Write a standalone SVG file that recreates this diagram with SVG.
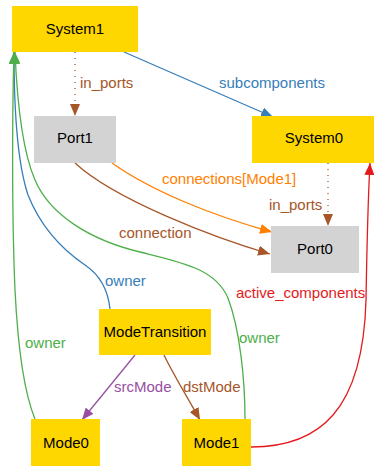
<svg xmlns="http://www.w3.org/2000/svg" width="374" height="466" viewBox="0 0 374 466">
<style>
.node text{font-family:"Liberation Sans",Arial,sans-serif;font-size:15px;fill:#000;text-anchor:middle}
.y{fill:#FFD700}
.g{fill:#D3D3D3}
.e{fill:none;stroke-width:1.3}
.lbl{font-family:"Liberation Sans",Arial,sans-serif;font-size:15px}
</style>
<defs>
<marker id="aBrown" markerUnits="userSpaceOnUse" markerWidth="12" markerHeight="10" refX="12" refY="5" orient="auto"><path d="M0,0 L12,5 L0,10 z" fill="#A65628"/></marker>
<marker id="aBlue" markerUnits="userSpaceOnUse" markerWidth="12" markerHeight="10" refX="12" refY="5" orient="auto"><path d="M0,0 L12,5 L0,10 z" fill="#377EB8"/></marker>
<marker id="aOrange" markerUnits="userSpaceOnUse" markerWidth="12" markerHeight="10" refX="12" refY="5" orient="auto"><path d="M0,0 L12,5 L0,10 z" fill="#FF7F00"/></marker>
<marker id="aRed" markerUnits="userSpaceOnUse" markerWidth="12" markerHeight="10" refX="12" refY="5" orient="auto"><path d="M0,0 L12,5 L0,10 z" fill="#E41A1C"/></marker>
<marker id="aGreen" markerUnits="userSpaceOnUse" markerWidth="12" markerHeight="10" refX="12" refY="5" orient="auto"><path d="M0,0 L12,5 L0,10 z" fill="#4DAF4A"/></marker>
<marker id="aPurple" markerUnits="userSpaceOnUse" markerWidth="12" markerHeight="10" refX="12" refY="5" orient="auto"><path d="M0,0 L12,5 L0,10 z" fill="#984EA3"/></marker>
</defs>
<rect width="374" height="466" fill="#fff"/>

<g id="edges">
  <path class="e" d="M75,52 L75,116" stroke="#A65628" stroke-dasharray="1,5" marker-end="url(#aBrown)"/>
  <text class="lbl" x="80" y="88" fill="#A65628">in_ports</text>

  <path class="e" d="M124,52 L273,117" stroke="#377EB8" marker-end="url(#aBlue)"/>
  <text class="lbl" x="219" y="88" fill="#377EB8">subcomponents</text>

  <path class="e" d="M112,163 C150,190 210,215 272,232" stroke="#FF7F00" marker-end="url(#aOrange)"/>
  <text class="lbl" x="162" y="184" fill="#FF7F00">connections[Mode1]</text>

  <path class="e" d="M75,163 C115,200 215,238 270,254" stroke="#A65628" marker-end="url(#aBrown)"/>
  <text class="lbl" x="119" y="238" fill="#A65628">connection</text>

  <path class="e" d="M328,163 L328,226" stroke="#A65628" stroke-dasharray="1,5" marker-end="url(#aBrown)"/>
  <text class="lbl" x="269" y="210" fill="#A65628">in_ports</text>

  <path class="e" d="M251,447 C320,447 363,410 366,300 C367,240 368,200 370,163" stroke="#E41A1C" marker-end="url(#aRed)"/>
  <text class="lbl" x="236" y="298" fill="#E41A1C">active_components</text>

  <path class="e" d="M110,309 C108,290 100,275 85,265 C60,248 40,225 28,195 C18,165 14,110 14,52" stroke="#377EB8" marker-end="url(#aBlue)"/>
  <text class="lbl" x="105" y="286" fill="#377EB8">owner</text>

  <path class="e" d="M245,419 C245,380 240,330 228,298 C215,268 180,262 140,252 C90,240 50,215 35,180 C22,150 17,100 15,52" stroke="#4DAF4A" marker-end="url(#aGreen)"/>
  <text class="lbl" x="239" y="343" fill="#4DAF4A">owner</text>

  <path class="e" d="M35,419 C25,395 18,350 15,290 C12,220 12,120 14,52" stroke="#4DAF4A" marker-end="url(#aGreen)"/>
  <text class="lbl" x="25" y="348" fill="#4DAF4A">owner</text>

  <path class="e" d="M135,355 L82,420" stroke="#984EA3" marker-end="url(#aPurple)"/>
  <text class="lbl" x="114" y="392" fill="#984EA3">srcMode</text>

  <path class="e" d="M164,355 C172,372 186,395 200,420" stroke="#A65628" marker-end="url(#aBrown)"/>
  <text class="lbl" x="183" y="392" fill="#A65628">dstMode</text>
</g>

<g id="System1" class="node"><rect class="y" x="12" y="6" width="126" height="46"/><text x="75" y="34">System1</text></g>
<g id="Port1" class="node"><rect class="g" x="34" y="116" width="82" height="47"/><text x="75" y="143">Port1</text></g>
<g id="System0" class="node"><rect class="y" x="252" y="116" width="124" height="47"/><text x="314" y="143">System0</text></g>
<g id="Port0" class="node"><rect class="g" x="271" y="226" width="88" height="47"/><text x="315" y="254">Port0</text></g>
<g id="ModeTransition" class="node"><rect class="y" x="99" y="309" width="112" height="46"/><text x="155" y="337">ModeTransition</text></g>
<g id="Mode0" class="node"><rect class="y" x="31" y="419" width="69" height="47"/><text x="66" y="448">Mode0</text></g>
<g id="Mode1" class="node"><rect class="y" x="182" y="419" width="69" height="47"/><text x="216.5" y="448">Mode1</text></g>
</svg>
